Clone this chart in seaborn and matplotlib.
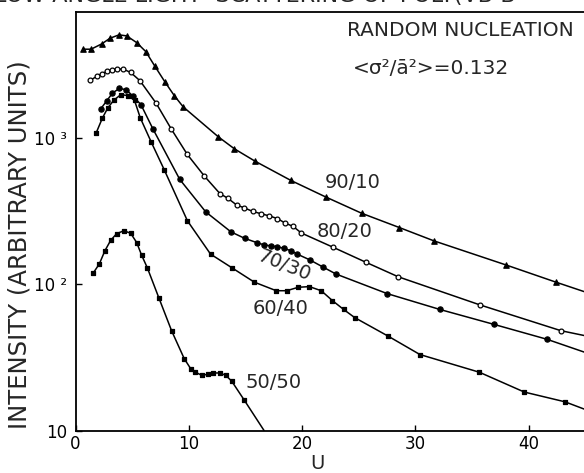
import numpy as np
import pandas as pd
import seaborn as sns
import matplotlib.pyplot as plt
import matplotlib.ticker as mticker

# ---- Data ----
u_90 = [0.69, 1.37, 2.31, 3.05, 3.84, 4.52, 5.40, 6.20, 7.02, 7.90, 8.72, 9.51,
        12.60, 14.02, 15.84, 19.02, 22.08, 25.26, 28.58, 31.64, 37.99, 42.40]
i_90 = [4009, 4009, 4355, 4764, 5023, 4943, 4446, 3864, 3055, 2393, 1932, 1618,
        1012, 838, 690, 509, 393, 304, 243, 197, 135, 103]

u_80 = [1.28, 1.87, 2.31, 2.75, 3.20, 3.69, 4.22, 4.87, 5.69, 7.11, 8.43, 9.87,
        11.37, 12.75, 13.42, 14.23, 14.90, 15.64, 16.37, 17.09, 17.81, 18.49,
        19.22, 19.93, 22.75, 25.61, 28.49, 35.70, 42.85]
i_80 = [2455, 2612, 2723, 2825, 2904, 2931, 2931, 2780, 2443, 1718, 1151, 766,
        546, 414, 386, 346, 331, 313, 302, 292, 280, 261,
        247, 223, 178, 141, 112, 72, 48]

u_70 = [2.22, 2.75, 3.26, 3.86, 4.46, 5.10, 5.78, 6.84, 9.20, 11.49, 13.72,
        14.93, 16.06, 16.66, 17.25, 17.81, 18.40, 18.99, 19.57, 20.69, 21.81,
        22.99, 27.51, 32.17, 36.94, 41.59]
i_70 = [1567, 1778, 2009, 2163, 2123, 1910, 1675, 1143, 518, 311, 227,
        205, 191, 185, 182, 180, 175, 169, 160, 146, 131,
        117, 86, 67, 53, 42]

u_60 = [1.81, 2.38, 2.85, 3.37, 4.00, 4.66, 5.21, 5.72, 6.69, 7.83, 9.88,
        11.92, 13.81, 15.78, 17.72, 18.64, 19.66, 20.64, 21.69, 22.68, 23.67,
        24.64, 27.61, 30.40, 35.64, 39.61, 43.20]
i_60 = [1069, 1361, 1592, 1795, 1963, 1932, 1791, 1361, 929, 603, 270,
        160, 129, 103, 90, 90, 95, 96, 90, 77, 67,
        59, 44, 33, 25, 18.3, 15.7]

u_50 = [1.57, 2.10, 2.60, 3.11, 3.64, 4.28, 4.87, 5.40, 5.84, 6.34, 7.37,
        8.49, 9.60, 10.17, 10.55, 11.14, 11.67, 12.16, 12.75, 13.26, 13.79, 14.90]
i_50 = [119, 137, 169, 199, 221, 231, 222, 192, 157, 129, 80,
        47.8, 30.9, 26.4, 25.1, 23.8, 24.2, 24.7, 24.7, 23.8, 21.7, 16.1]

# where each drawn curve leaves the plotting area (no marker there)
tail_u = {"90/10": 44.9, "80/20": 44.9, "70/30": 44.9, "60/40": 44.9, "50/50": 16.64}
tail_i = {"90/10": 88.7, "80/20": 44.5, "70/30": 34.3, "60/40": 14.0, "50/50": 10.0}

series = {
    "90/10": (u_90, i_90),
    "80/20": (u_80, i_80),
    "70/30": (u_70, i_70),
    "60/40": (u_60, i_60),
    "50/50": (u_50, i_50),
}
markers = {"90/10": ("^", "black", 15), "80/20": ("o", "white", 12),
           "70/30": ("o", "black", 14), "60/40": ("s", "black", 5),
           "50/50": ("s", "black", 6)}

# ---- Plot ----
sns.set_theme(style="ticks")
plt.rcParams["font.family"] = ["DejaVu Sans"]

W, H = 584, 473
fig = plt.figure(figsize=(W / 100, H / 100), dpi=100)
ax = fig.add_axes([75.5 / W, 1 - 430.5 / H, 1 - 75.5 / W, (430.5 - 12) / H])

for name, (u, inten) in series.items():
    line = pd.DataFrame({"u": list(u) + [tail_u[name]],
                         "I": list(inten) + [tail_i[name]]})
    sns.lineplot(data=line, x="u", y="I", sort=False, color="black", lw=1.1,
                 ax=ax)
    m, fc, s = markers[name]
    sns.scatterplot(x=u, y=inten, marker=m, s=s, facecolor=fc,
                    edgecolor="black", linewidth=0.9, ax=ax, zorder=3)

ax.set_yscale("log")
ax.set_xlim(0, (W - 75.5) / 11.33)
ax.set_ylim(10, 10 ** 3.857)
ax.set_xticks([0, 10, 20, 30, 40])
ax.set_yticks([10, 100, 1000])
ax.yaxis.set_major_formatter(mticker.FixedFormatter(["10", "10 ²", "10 ³"]))
ax.yaxis.set_minor_locator(mticker.NullLocator())
ax.tick_params(direction="in", length=4, width=1, labelsize=12, colors="black")
ax.tick_params(axis="y", pad=6)
ax.set_xlabel("")
ax.set_ylabel("")
ax.spines["right"].set_visible(False)
for sp in ["left", "top", "bottom"]:
    ax.spines[sp].set_linewidth(1.3)
    ax.spines[sp].set_color("black")

# curve labels
for txt, (x, y, rot) in {"90/10": (353, 182, 0), "80/20": (345, 231, 0),
                         "70/30": (284, 266, -22), "60/40": (281, 308, 0),
                         "50/50": (274, 383, 0)}.items():
    fig.text(x / W, 1 - y / H, txt, fontsize=14, ha="center", va="center",
             rotation=rot, rotation_mode="anchor")

fig.text(574 / W, 1 - 31 / H, "RANDOM NUCLEATION", fontsize=14.5,
         ha="right", va="center")
fig.text(431 / W, 1 - 69 / H, "<σ²/ā²>=0.132", fontsize=14.5,
         ha="center", va="center")
fig.text(317 / W, 1 - 463 / H, "U", fontsize=14, ha="center", va="center")
fig.text(20 / W, 1 - 245 / H, "INTENSITY (ARBITRARY UNITS)", fontsize=17.5,
         rotation=90, ha="center", va="center")
# title line, cut off by the top edge of the scan
fig.text(-0.01, 1 - 2 / H, "LOW ANGLE LIGHT  SCATTERING OF POLY(VB-B",
         fontsize=16, ha="left", va="baseline")

fig.savefig("out.png", dpi=100)
plt.close(fig)
